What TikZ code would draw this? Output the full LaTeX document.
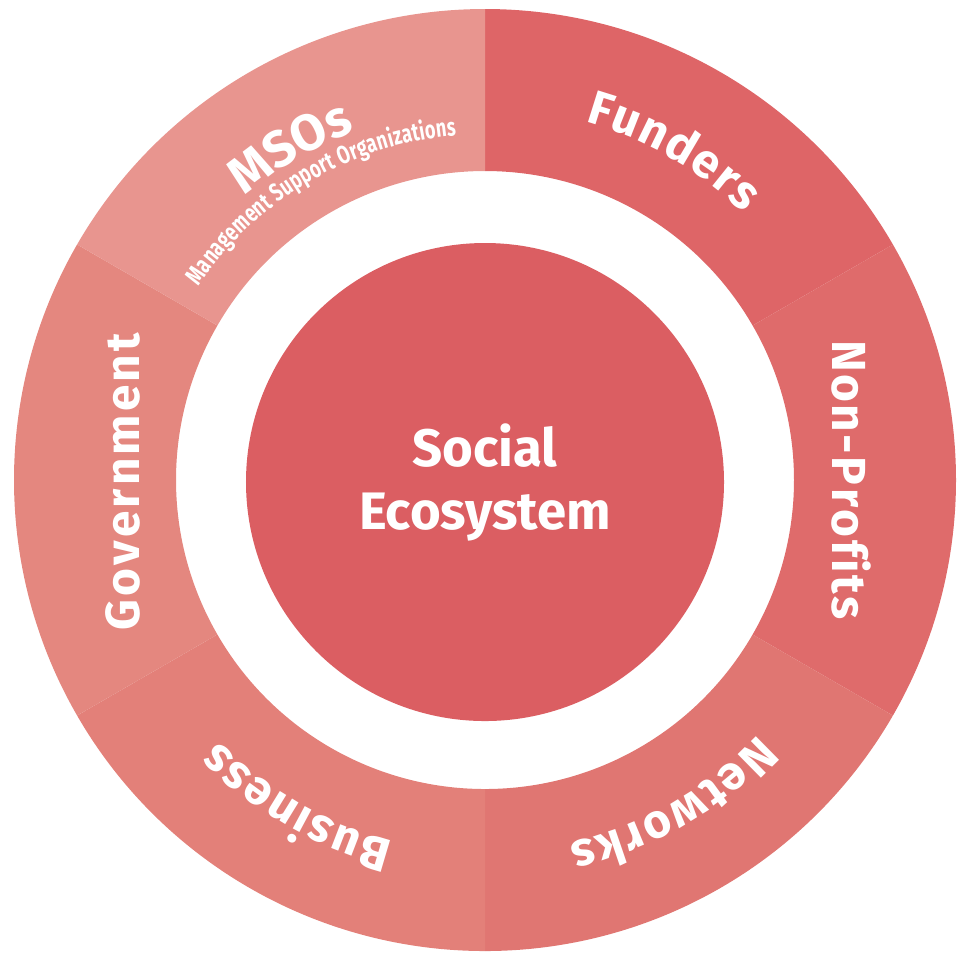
\documentclass[tikz,border=0pt]{standalone}
\usepackage{fontspec}
\setmainfont{Fira Sans}
\newfontfamily\condfont[FakeStretch=0.72]{Fira Sans}
\usetikzlibrary{decorations.text}

\definecolor{funders}{HTML}{DE6567}
\definecolor{nonprofits}{HTML}{DF6B6B}
\definecolor{networks}{HTML}{E07672}
\definecolor{business}{HTML}{E38079}
\definecolor{government}{HTML}{E4877F}
\definecolor{msos}{HTML}{E8958F}
\definecolor{ecocol}{HTML}{DB5E62}

\newcommand\ringfont{\bfseries\fontsize{13.6}{16}\selectfont}
\newcommand\msofont{\bfseries\fontsize{14.5}{17}\selectfont}
\newcommand\subfont{\condfont\bfseries\fontsize{7.2}{8.5}\selectfont}
\newcommand\centerfont{\bfseries\fontsize{15}{17.9}\selectfont}

\begin{document}
\begin{tikzpicture}[
		ringlabel/.style={decorate, decoration={text along path, text align=fit to path, text color=white, text={|\ringfont|#1}}},
		msolabel/.style={decorate, decoration={text along path, text align=fit to path, text color=white, text={|\msofont|#1}}},
		sublabel/.style={decorate, decoration={text along path, text align=fit to path, text color=white, text={|\subfont|#1}}}]
		\useasboundingbox (-4.85,-4.74) rectangle (4.83,4.80);
		
		% ring
		\foreach \a/\b/\col in {30/90/funders, -30/30/nonprofits, -90/-30/networks, 210/270/business, 150/210/government, 90/150/msos}
			\fill[\col] (\a:4.71) arc[start angle=\a, end angle=\b, radius=4.71] -- (\b:3.09) arc[start angle=\b, end angle=\a, radius=3.09] -- cycle;
		
		\node[circle, fill=ecocol, minimum size=4.78cm, inner sep=0pt, text=white, align=center, font=\centerfont] (eco) at (0,-0.02) {Social\\Ecosystem};
		
		% labels
		\path[ringlabel=Funders]     (74.4:3.72) arc[start angle=74.4, end angle=45.9, radius=3.72];
		\path[ringlabel=Non-Profits] (3.47,1.40) -- (3.47,-1.40);
		\path[ringlabel=Networks]    (-43:3.73) arc[start angle=-43, end angle=-77, radius=3.73];
		\path[ringlabel=Business]    (255.8:3.73) arc[start angle=255.8, end angle=224.4, radius=3.73];
		\path[ringlabel=Government]  (-3.45,-1.50) -- (-3.45,1.47);
		\path[msolabel=MSOs]         (130.3:3.72) arc[start angle=130.3, end angle=110.8, radius=3.72];
		\path[sublabel={Management Support Organizations}] (145.9:3.46) arc[start angle=145.9, end angle=94.7, radius=3.46];
\end{tikzpicture}
\end{document}
